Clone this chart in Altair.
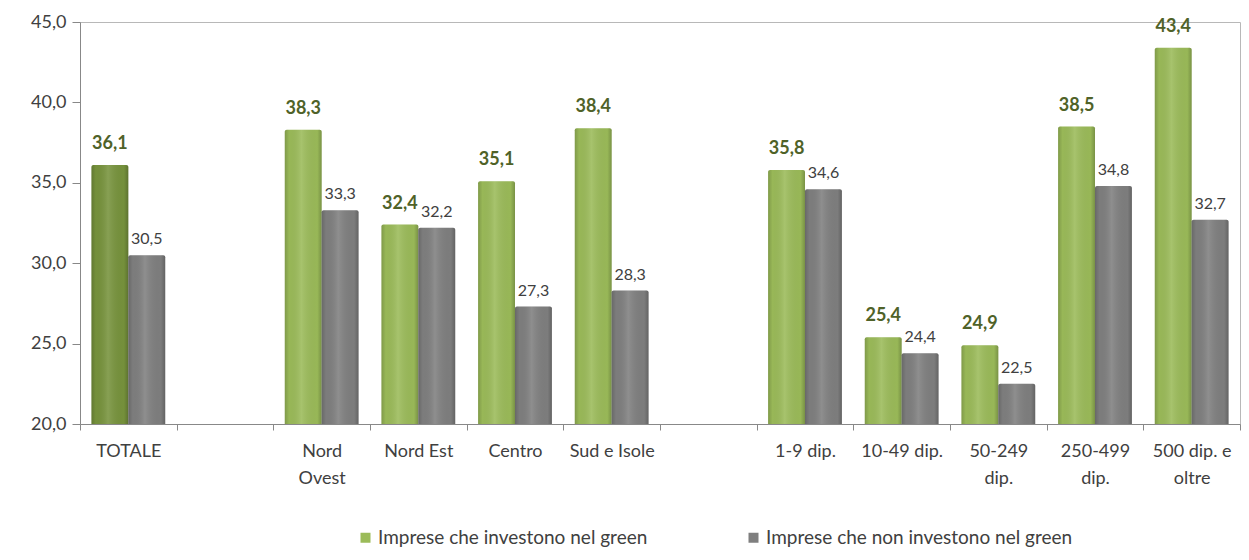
import altair as alt
import pandas as pd

categories = ["TOTALE", "_1", "Nord|Ovest", "Nord Est", "Centro", "Sud e Isole", "_2",
              "1-9 dip.", "10-49 dip.", "50-249|dip.", "250-499|dip.", "500 dip. e|oltre"]
series = ["Imprese che investono nel green", "Imprese che non investono nel green"]
green_values = [36.1, None, 38.3, 32.4, 35.1, 38.4, None, 35.8, 25.4, 24.9, 38.5, 43.4]
gray_values = [30.5, None, 33.3, 32.2, 27.3, 28.3, None, 34.6, 24.4, 22.5, 34.8, 32.7]

rows = []
for c, g, n in zip(categories, green_values, gray_values):
    if g is not None:
        rows.append({"cat": c, "series": series[0], "value": g})
    if n is not None:
        rows.append({"cat": c, "series": series[1], "value": n})
df = pd.DataFrame(rows)

FONT = "Lato"

x_enc = alt.X(
    "cat:N",
    sort=categories,
    scale=alt.Scale(domain=categories, paddingInner=0, paddingOuter=0),
    axis=alt.Axis(
        title=None, labelAngle=0, tickBand="extent",
        labelExpr="substring(datum.label, 0, 1) == '_' ? '' : split(datum.label, '|')",
        labelFont=FONT, labelFontSize=18, labelColor="#404040",
        labelPadding=12, tickSize=6, tickColor="#888888", domainColor="#888888",
        labelLineHeight=27, labelBaseline="top",
    ),
)
xoff = alt.XOffset("series:N", scale=alt.Scale(domain=series, paddingInner=0, paddingOuter=0.31))
y_enc = alt.Y(
    "value:Q",
    scale=alt.Scale(domain=[20, 45], zero=False, nice=False),
    axis=alt.Axis(
        title=None, values=[20, 25, 30, 35, 40, 45], grid=False,
        labelExpr="replace(format(datum.value, '.1f'), '.', ',')",
        labelFont=FONT, labelFontSize=18, labelColor="#404040",
        tickSize=8, tickColor="#888888", domainColor="#888888", labelPadding=6,
    ),
)

base = alt.Chart(df).transform_calculate(
    label="replace(format(datum.value, '.1f'), '.', ',')"
)

bars = base.mark_bar(cornerRadiusTopLeft=2, cornerRadiusTopRight=2).encode(
    x=x_enc,
    xOffset=xoff,
    y=y_enc,
    y2=alt.datum(20),
    color=alt.condition(
        f"datum.cat == 'TOTALE' && datum.series == '{series[0]}'",
        alt.value("#77933c"),
        alt.Color(
            "series:N",
            scale=alt.Scale(domain=series, range=["#9bbb59", "#7f7f7f"]),
            legend=alt.Legend(
                title=None, orient="none", direction="horizontal",
                legendX=276, legendY=506, symbolType="square", symbolSize=100,
                symbolStrokeWidth=0, labelFont=FONT, labelFontSize=19,
                labelColor="#404040", columnPadding=96, labelOffset=3,
                labelLimit=400,
            ),
        ),
    ),
)

shade = base.mark_bar(
    cornerRadiusTopLeft=2, cornerRadiusTopRight=2,
    color=alt.LinearGradient(
        gradient="linear", x1=0, x2=1, y1=0, y2=0,
        stops=[
            alt.GradientStop(offset=0, color="rgba(0,0,0,0.18)"),
            alt.GradientStop(offset=0.12, color="rgba(0,0,0,0.02)"),
            alt.GradientStop(offset=0.45, color="rgba(255,255,255,0.12)"),
            alt.GradientStop(offset=0.88, color="rgba(0,0,0,0.02)"),
            alt.GradientStop(offset=1, color="rgba(0,0,0,0.22)"),
        ],
    ),
).encode(x=x_enc, xOffset=xoff, y=y_enc, y2=alt.datum(20))

green_text = base.transform_filter(alt.datum.series == series[0]).mark_text(
    dy=-21, font=FONT, fontSize=18, fontWeight="bold", color="#4f6228"
).encode(x=x_enc, xOffset=xoff, y=y_enc, text="label:N")

gray_text = base.transform_filter(alt.datum.series == series[1]).mark_text(
    dy=-16, font=FONT, fontSize=16, color="#404040"
).encode(x=x_enc, xOffset=xoff, y=y_enc, text="label:N")

chart = alt.layer(bars, shade, green_text, gray_text).properties(
    width=1160, height=402,
    autosize=alt.AutoSizeParams(type="none"),
    padding={"left": 72, "top": 14, "right": 1, "bottom": 130},
    background="white",
).configure_view(stroke="#b8b8b8", strokeWidth=1)

chart.save("out.html", embed_options={"renderer": "svg", "actions": False})
